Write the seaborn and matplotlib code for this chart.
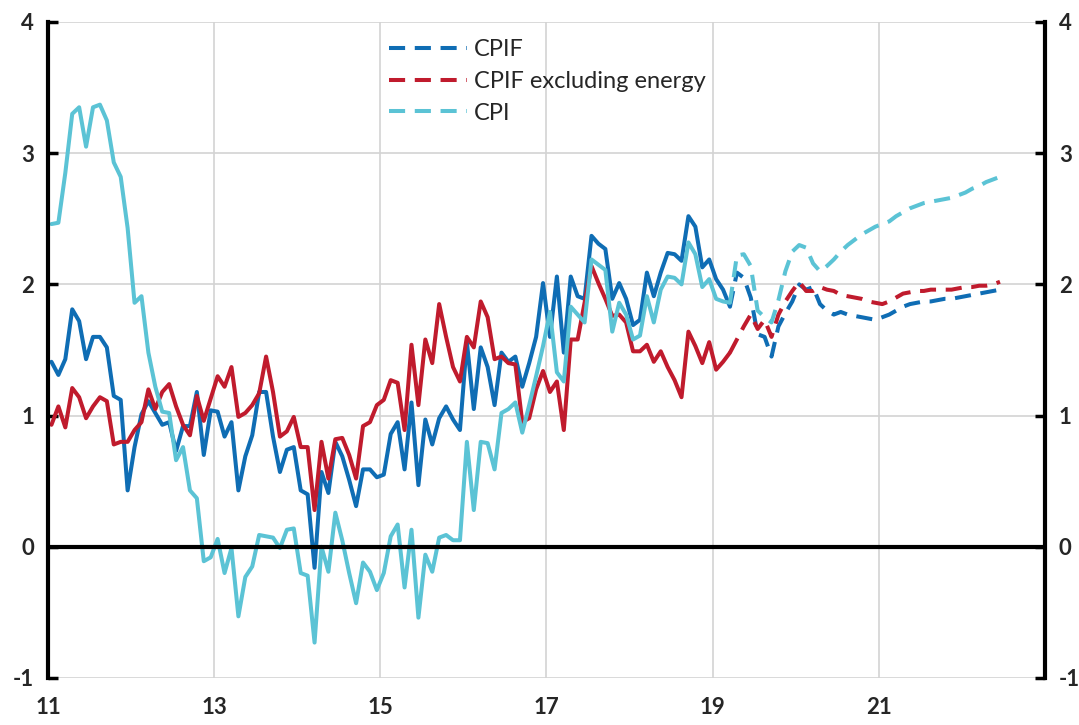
import numpy as np
import pandas as pd
import matplotlib
matplotlib.use("Agg")
import matplotlib.pyplot as plt
from matplotlib.lines import Line2D
import seaborn as sns

# ---- data (monthly, Jan 2011 onwards) ----
cpif_outcome = [
    1.41, 1.31, 1.43, 1.81, 1.72, 1.43, 1.60, 1.60, 1.52, 1.15,
    1.12, 0.43, 0.76, 1.01, 1.11, 1.02, 0.93, 0.95, 0.73, 0.92,
    0.92, 1.18, 0.70, 1.04, 1.03, 0.84, 0.95, 0.43, 0.69, 0.85,
    1.18, 1.18, 0.84, 0.57, 0.74, 0.76, 0.43, 0.40, -0.16, 0.57,
    0.41, 0.80, 0.69, 0.51, 0.31, 0.59, 0.59, 0.53, 0.55, 0.86,
    0.95, 0.59, 1.10, 0.47, 0.97, 0.78, 0.98, 1.07, 0.97, 0.89,
    1.56, 1.05, 1.52, 1.37, 1.08, 1.48, 1.41, 1.45, 1.22, 1.40,
    1.60, 2.01, 1.60, 2.06, 1.48, 2.06, 1.91, 1.89, 2.37, 2.31,
    2.27, 1.89, 2.01, 1.89, 1.69, 1.73, 2.09, 1.91, 2.09, 2.24,
    2.23, 2.18, 2.52, 2.44, 2.13, 2.19, 2.04, 1.96, 1.83]
cpifxe_outcome = [
    0.93, 1.07, 0.91, 1.21, 1.14, 0.98, 1.07, 1.14, 1.11, 0.78,
    0.80, 0.80, 0.89, 0.95, 1.20, 1.05, 1.18, 1.24, 1.07, 0.93,
    0.85, 1.15, 0.96, 1.13, 1.30, 1.22, 1.37, 0.99, 1.02, 1.08,
    1.17, 1.45, 1.18, 0.84, 0.88, 0.99, 0.76, 0.76, 0.28, 0.80,
    0.52, 0.82, 0.83, 0.70, 0.52, 0.92, 0.95, 1.08, 1.12, 1.27,
    1.25, 0.89, 1.54, 1.08, 1.58, 1.40, 1.85, 1.60, 1.37, 1.26,
    1.60, 1.52, 1.87, 1.75, 1.43, 1.45, 1.40, 1.39, 0.95, 0.98,
    1.20, 1.34, 1.18, 1.26, 0.89, 1.58, 1.58, 1.86, 2.14, 2.01,
    1.89, 1.76, 1.77, 1.71, 1.49, 1.49, 1.54, 1.41, 1.49, 1.37,
    1.27, 1.14, 1.64, 1.53, 1.40, 1.56, 1.35, 1.41, 1.48]
cpi_outcome = [
    2.46, 2.47, 2.85, 3.30, 3.35, 3.05, 3.35, 3.37, 3.25, 2.93,
    2.82, 2.43, 1.86, 1.91, 1.48, 1.22, 1.03, 1.02, 0.66, 0.76,
    0.43, 0.37, -0.11, -0.08, 0.06, -0.20, -0.01, -0.53, -0.23, -0.15,
    0.09, 0.08, 0.07, -0.01, 0.13, 0.14, -0.20, -0.22, -0.73, 0.00,
    -0.19, 0.26, 0.05, -0.20, -0.43, -0.12, -0.19, -0.33, -0.20, 0.08,
    0.17, -0.31, 0.13, -0.54, -0.06, -0.19, 0.07, 0.09, 0.05, 0.05,
    0.80, 0.28, 0.80, 0.79, 0.59, 1.02, 1.05, 1.10, 0.87, 1.08,
    1.30, 1.53, 1.79, 1.33, 1.26, 1.83, 1.77, 1.71, 2.19, 2.15,
    2.11, 1.64, 1.86, 1.77, 1.58, 1.61, 1.91, 1.71, 1.96, 2.06,
    2.05, 2.00, 2.32, 2.23, 1.98, 2.04, 1.89, 1.87, 1.86]

# forecasts: Mar 2019 (last outcome) to Jun 2022
cpif_forecast = [
    1.83, 2.09, 2.05, 1.90, 1.62, 1.60, 1.45, 1.68, 1.78, 1.87,
    2.00, 1.96, 1.98, 1.85, 1.80, 1.77, 1.79, 1.77, 1.76, 1.75,
    1.74, 1.73, 1.75, 1.77, 1.80, 1.83, 1.85, 1.86, 1.87, 1.87,
    1.88, 1.89, 1.89, 1.90, 1.91, 1.92, 1.93, 1.94, 1.95, 1.96]
cpifxe_forecast = [
    1.48, 1.58, 1.68, 1.77, 1.66, 1.73, 1.60, 1.77, 1.87, 1.95,
    2.02, 1.95, 1.95, 1.98, 1.96, 1.95, 1.92, 1.91, 1.90, 1.89,
    1.87, 1.86, 1.85, 1.87, 1.90, 1.93, 1.94, 1.95, 1.95, 1.96,
    1.96, 1.96, 1.96, 1.97, 1.98, 1.98, 1.99, 1.99, 2.00, 2.02]
cpi_forecast = [
    1.86, 2.22, 2.23, 2.14, 1.80, 1.75, 1.71, 1.88, 2.10, 2.25,
    2.30, 2.28, 2.16, 2.10, 2.14, 2.19, 2.25, 2.30, 2.34, 2.38,
    2.41, 2.44, 2.46, 2.48, 2.52, 2.55, 2.58, 2.60, 2.62, 2.63,
    2.64, 2.65, 2.66, 2.68, 2.70, 2.73, 2.75, 2.78, 2.80, 2.82]

series_names = ["CPIF", "CPIF excluding energy", "CPI"]
series_colors = ["#0f6db4", "#c01b2d", "#5bc3d5"]
x_tick_labels = ["11", "13", "15", "17", "19", "21"]
y_tick_labels = ["-1", "0", "1", "2", "3", "4"]

# ---- build frames ----
n_out = len(cpif_outcome)
x_out = 11 + (np.arange(n_out) + 0.5) / 12
x_fc = 11 + (np.arange(len(cpif_forecast)) + n_out - 1 + 0.5) / 12

outcomes = [cpif_outcome, cpifxe_outcome, cpi_outcome]
forecasts = [cpif_forecast, cpifxe_forecast, cpi_forecast]

sns.set_theme(style="white")
plt.rcParams["font.family"] = ["Lato", "DejaVu Sans"]

fig = plt.figure(figsize=(10.79, 7.25), dpi=100)
ax = fig.add_axes([48 / 1079, 1 - 678 / 725, (1045 - 48) / 1079, (678 - 22) / 725])

lw = 2.9
dash = (4.0, 2.4)
for name, col, yo, yf in zip(series_names, series_colors, outcomes, forecasts):
    df_o = pd.DataFrame({"x": x_out, "y": yo})
    df_f = pd.DataFrame({"x": x_fc, "y": yf})
    sns.lineplot(data=df_o, x="x", y="y", ax=ax, color=col, lw=lw, legend=False,
                 zorder=3)
    sns.lineplot(data=df_f, x="x", y="y", ax=ax, color=col, lw=lw, legend=False,
                 zorder=3, dashes=False, linestyle=(0, dash))

# zero line
ax.axhline(0, color="black", lw=3.0, zorder=4)

ax.set_xlim(11, 23)
ax.set_ylim(-1, 4)
ax.set_xticks([int(v) for v in x_tick_labels])
ax.set_xticklabels(x_tick_labels)
ax.set_yticks([int(v) for v in y_tick_labels])
ax.set_yticklabels(y_tick_labels)
ax.set_xlabel("")
ax.set_ylabel("")

ax.grid(True, color="#d3d3d3", lw=1.2, zorder=0)
for s in ["top", "bottom"]:
    ax.spines[s].set_visible(False)
for s in ["left", "right"]:
    ax.spines[s].set_visible(True)
    ax.spines[s].set_color("black")
    ax.spines[s].set_linewidth(3.0)
    ax.spines[s].set_zorder(5)

ax.tick_params(axis="y", which="both", left=True, right=True, labelleft=True,
               labelright=True, direction="in", length=7, width=2.5,
               color="black", pad=10, labelsize=16)
ax.tick_params(axis="x", bottom=False, length=0, pad=14, labelsize=16)
for lab in ax.get_xticklabels() + ax.get_yticklabels():
    lab.set_fontweight("bold")
for lab in ax.yaxis.get_ticklabels(which="both"):
    lab.set_fontweight("bold")

handles = [Line2D([0], [0], color=c, lw=lw, linestyle=(0, dash)) for c in series_colors]
leg = ax.legend(handles, series_names, loc="upper left",
                bbox_to_anchor=((374 - 48) / 997, 0.997), frameon=False,
                fontsize=17, handlelength=3.3, handletextpad=0.3,
                labelspacing=0.45, borderaxespad=0.25)

fig.savefig("out.png", dpi=100)
